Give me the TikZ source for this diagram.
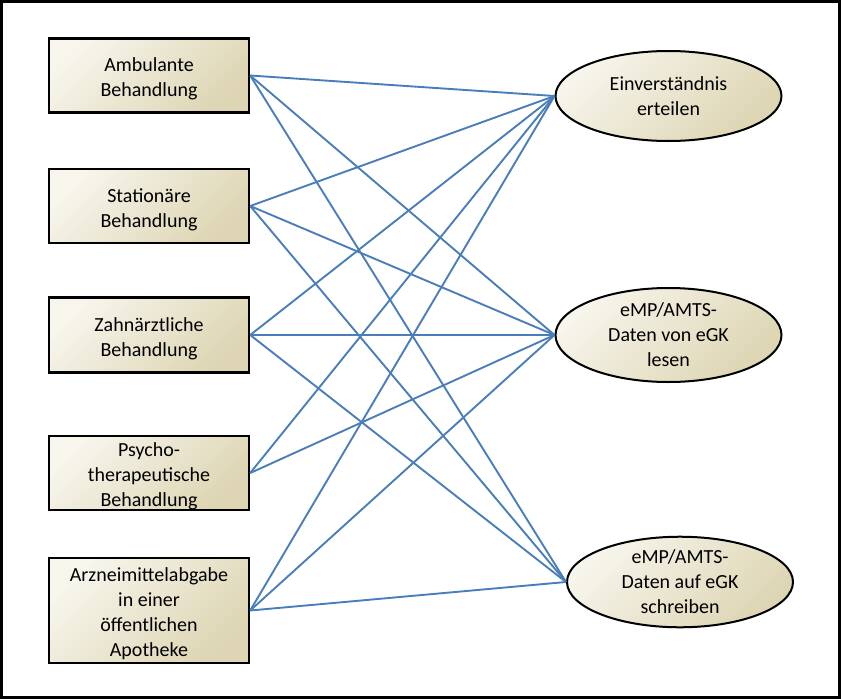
\documentclass[tikz,border=0pt]{standalone}
\usepackage{fontspec}
\setmainfont{Carlito}
\usetikzlibrary{shapes.geometric}
\definecolor{linkblue}{HTML}{4A7EBB}
\definecolor{fillA}{HTML}{F7F5EC}
\definecolor{fillB}{HTML}{DDD5B3}
\newcommand{\myupstrut}{\rule{0pt}{21pt}}
\tikzset{
  shade45/.style={top color=fillA, bottom color=fillB, shading angle=45},
  taskbox/.style={draw=black, line width=2.4pt, shade45, minimum width=200pt, inner sep=0pt, align=center, font=\fontsize{20}{25}\selectfont},
  goal/.style={ellipse, draw=black, line width=2pt, shade45, minimum width=226pt, inner sep=0pt, align=center, font=\fontsize{20}{25}\selectfont},
  link/.style={draw=linkblue, line width=1.9pt}
}
\begin{document}
\begin{tikzpicture}[x=1pt,y=-1pt]
\useasboundingbox (0,0) rectangle (841,699);
\draw[line width=3pt] (1.5,1.5) rectangle (839.5,697.5);

\node[taskbox, minimum height=74pt] (b1) at (149,75.5) {\myupstrut Ambulante\\Behandlung};
\node[taskbox, minimum height=74pt] (b2) at (149,206) {\myupstrut Stationäre\\Behandlung};
\node[taskbox, minimum height=75pt] (b3) at (149,335) {\myupstrut Zahnärztliche\\Behandlung};
\node[taskbox, minimum height=74pt] (b4) at (149,473) {\myupstrut Psycho-\\therapeutische\\Behandlung};
\node[taskbox, minimum height=105pt] (b5) at (149,610.5) {\myupstrut Arzneimittelabgabe\\in einer\\öffentlichen\\Apotheke};

\node[goal, minimum height=90pt] (e1) at (668.5,96) {Einverständnis\\erteilen};
\node[goal, minimum height=94pt] (e2) at (668.5,335) {eMP/AMTS-\\Daten von eGK\\lesen};
\node[goal, minimum height=86pt] (e3) at (680,582) {eMP/AMTS-\\Daten auf eGK\\schreiben};

\foreach \b in {b1,b2,b3,b5}{
  \foreach \e in {e1,e2,e3}{
    \draw[link] (\b.east) -- (\e.west);
  }
}
\draw[link] (b4.east) -- (e1.west);
\draw[link] (b4.east) -- (e2.west);
\end{tikzpicture}
\end{document}
